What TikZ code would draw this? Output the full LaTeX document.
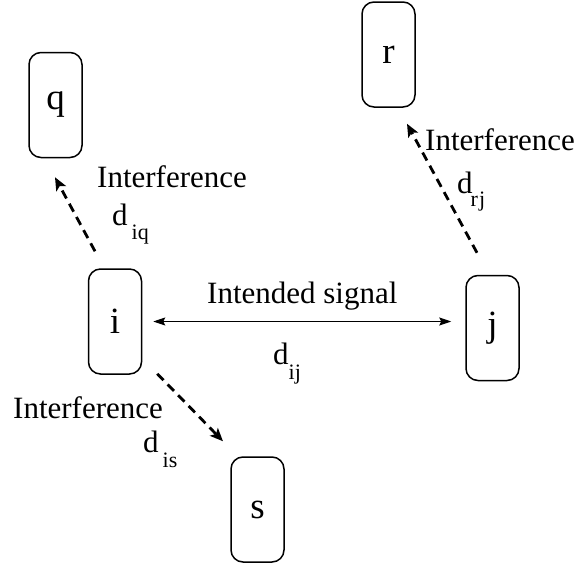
\documentclass[tikz,border=0pt]{standalone}
\usepackage{fontspec}
\setmainfont{Liberation Serif}
\usetikzlibrary{arrows.meta}
\newcommand{\bigfont}{\fontsize{31}{36}\selectfont}
\newcommand{\boxfont}{\fontsize{37}{42}\selectfont}
\newcommand{\subfont}{\fontsize{22}{25}\selectfont}
\begin{document}
\begin{tikzpicture}[x=1pt,y=-1pt,
  stationbox/.style={draw, line width=1.5pt, rounded corners=12pt, minimum width=53pt, minimum height=105pt, inner sep=0pt, font=\boxfont},
  lbl/.style={anchor=base west, inner sep=0pt, font=\bigfont},
  intf/.style={line width=2.8pt, dash pattern=on 9pt off 6pt, -{Stealth[length=13pt,width=11pt,inset=3pt]}},
  signal/.style={line width=1.3pt, {Stealth[length=12pt,width=8pt,inset=2pt]}-{Stealth[length=12pt,width=8pt,inset=2pt]}}]
\useasboundingbox (0,0) rectangle (576,570);
% stations
\node[stationbox] (q) at (55.5,105) {q};
\node[stationbox] (r) at (388.5,54.5) {r};
\node[stationbox] (i) at (115,321.5) {i};
\node[stationbox] (j) at (492.5,328) {j};
\node[stationbox] (s) at (257.5,509.5) {s};
% connectors
\draw[signal] ([xshift=11pt]i.east) -- ([xshift=-14pt]i.east -| j.west);
\draw[intf] ([shift={(-20,-17)}]i.north) -- ([shift={(-0.5,19)}]q.south);
\draw[intf] ([shift={(-15.5,-22)}]j.north) -- ([shift={(18.5,16)}]r.south);
\draw[intf] ([shift={(15,-1)}]i.south east) -- ([shift={(-34.5,-15)}]s.north);
% labels
\node[lbl] (tq) at (97,187) {Interference};
\node[lbl] (dq) at (112,225) {d\kern4pt\raisebox{-14pt}{\subfont iq}};
\node[lbl] (tr) at (425,150) {Interference};
\node[lbl] (dr) at (457,193) {d\kern-2pt\raisebox{-13pt}{\subfont r\kern1pt j}};
\node[lbl] (ts) at (207,303) {Intended signal};
\node[lbl] (dij) at (273,364) {d\kern0pt\raisebox{-15pt}{\subfont ij}};
\node[lbl] (tis) at (13,418) {Interference};
\node[lbl] (dis) at (143,452) {d\kern4pt\raisebox{-15pt}{\subfont is}};
\end{tikzpicture}
\end{document}
